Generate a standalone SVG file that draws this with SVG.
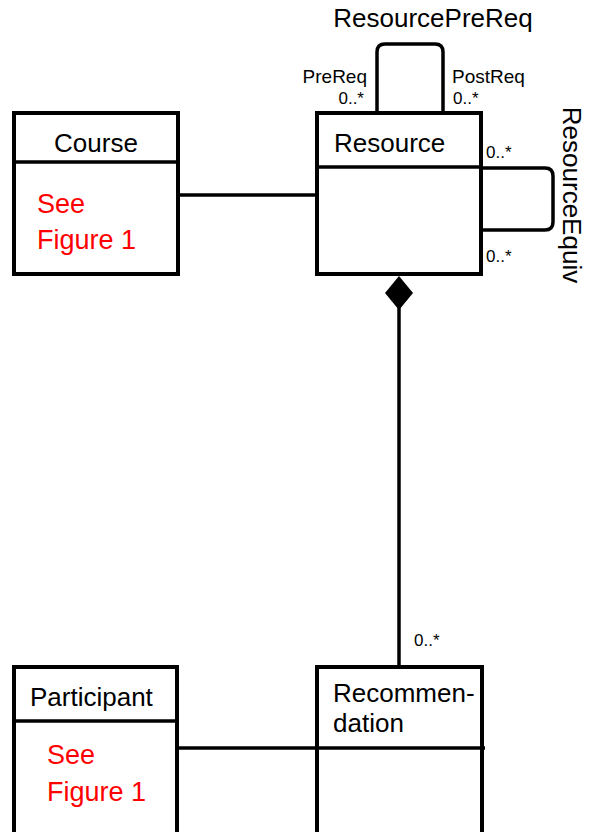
<svg xmlns="http://www.w3.org/2000/svg" width="589" height="832" viewBox="0 0 589 832">
<style>
.box{fill:#fff;stroke:#000;stroke-width:4}
.div{stroke:#000;stroke-width:3.5}
.ln{fill:none;stroke:#000;stroke-width:3.5}
text{font-family:"Liberation Sans",Arial,sans-serif;fill:#000}
.name{font-size:26px}
.red{font-size:27px;fill:#ff0000}
.role{font-size:19px}
.mult{font-size:17px}
.assoc{font-size:26px}
</style>
<rect width="589" height="832" fill="#fff"/>
<g id="connectors">
<line class="ln" x1="178" y1="195" x2="317" y2="195"/>
<path class="ln" d="M377,113 V52 Q377,44 385,44 H435 Q443,44 443,52 V113"/>
<path class="ln" d="M481,168 H545 Q553,168 553,176 V222 Q553,230 545,230 H481"/>
<line class="ln" x1="399" y1="300" x2="399" y2="667"/>
<polygon points="399,276 413,293 399,310 385,293" fill="#000"/>
<line class="ln" x1="177" y1="748" x2="317" y2="748"/>
<text class="assoc" x="433" y="27" text-anchor="middle">ResourcePreReq</text>
<text class="role" x="367" y="83" text-anchor="end">PreReq</text>
<text class="mult" x="364" y="104" text-anchor="end">0..*</text>
<text class="role" x="452" y="83">PostReq</text>
<text class="mult" x="453" y="104">0..*</text>
<text class="mult" x="486" y="158">0..*</text>
<text class="mult" x="486" y="262">0..*</text>
<text class="assoc" transform="translate(563,195) rotate(90)" text-anchor="middle">ResourceEquiv</text>
<text class="mult" x="414" y="646">0..*</text>
</g>
<g id="course">
<rect class="box" x="14" y="113" width="164" height="161"/>
<line class="div" x1="14" y1="162" x2="178" y2="162"/>
<text class="name" x="96" y="152" text-anchor="middle">Course</text>
<text class="red" x="37" y="213">See</text>
<text class="red" x="37" y="249">Figure 1</text>
</g>
<g id="resource">
<rect class="box" x="317" y="113" width="164" height="161"/>
<line class="div" x1="317" y1="167" x2="481" y2="167"/>
<text class="name" x="334" y="152">Resource</text>
</g>
<g id="participant">
<rect class="box" x="14" y="667" width="163" height="175"/>
<line class="div" x1="14" y1="721" x2="177" y2="721"/>
<text class="name" x="30" y="706">Participant</text>
<text class="red" x="47" y="764">See</text>
<text class="red" x="47" y="801">Figure 1</text>
</g>
<g id="recommendation">
<rect class="box" x="317" y="667" width="165" height="175"/>
<line class="div" x1="317" y1="748" x2="485" y2="748"/>
<text class="name" x="333" y="702">Recommen-</text>
<text class="name" x="333" y="732">dation</text>
</g>
</svg>
